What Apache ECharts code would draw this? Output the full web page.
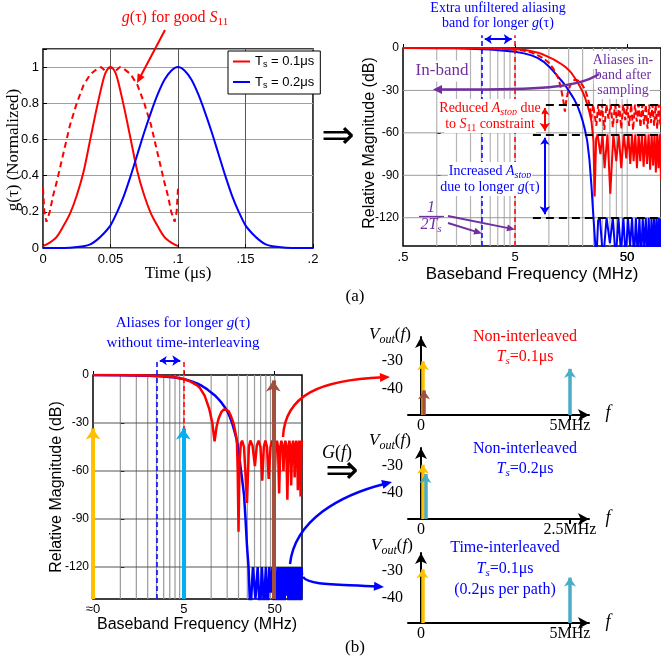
<!DOCTYPE html>
<html><head><meta charset="utf-8">
<script src="https://cdn.jsdelivr.net/npm/echarts@6/dist/echarts.min.js"></script>
<style>html,body{margin:0;padding:0;background:#fff}#c{width:661px;height:665px}</style>
</head><body><div id="c"></div>
<script>
// ---------------- DATA ----------------
// (a) left: impulse responses g(tau), time in microseconds
const tRed = [0,0.005,0.01,0.015,0.02,0.025,0.03,0.035,0.04,0.045,0.0475,0.05,0.0525,0.055,0.06,0.065,0.07,0.075,0.08,0.085,0.09,0.095,0.1];
const gRed = [0.01,0.03,0.06,0.12,0.19,0.29,0.42,0.60,0.78,0.94,0.985,1.0,0.985,0.94,0.78,0.60,0.42,0.29,0.19,0.12,0.06,0.03,0.01];
const tRedS11 = [0,0.001,0.0025,0.005,0.0075,0.01,0.0125,0.015,0.0175,0.02,0.025,0.03,0.035,0.04,0.043,0.046,0.05,0.054,0.057,0.06,0.065,0.07,0.075,0.08,0.0825,0.085,0.0875,0.09,0.0925,0.095,0.0975,0.099,0.1];
const gRedS11 = [0.33,0.2,0.145,0.2,0.29,0.36,0.44,0.52,0.6,0.68,0.8,0.9,0.96,0.99,1.0,0.98,1.0,0.98,1.0,0.99,0.96,0.9,0.8,0.68,0.6,0.52,0.44,0.36,0.29,0.2,0.145,0.2,0.33];
const tBlue = [0,0.01,0.02,0.03,0.035,0.04,0.045,0.05,0.055,0.06,0.065,0.07,0.075,0.08,0.085,0.09,0.095,0.1,0.105,0.11,0.115,0.12,0.125,0.13,0.135,0.14,0.145,0.15,0.155,0.16,0.165,0.17,0.18,0.19,0.2];
const gBlue = [0,0,0.002,0.01,0.02,0.045,0.08,0.125,0.2,0.29,0.4,0.52,0.64,0.75,0.85,0.93,0.98,1.0,0.98,0.93,0.85,0.75,0.64,0.52,0.4,0.29,0.2,0.125,0.08,0.045,0.02,0.01,0.002,0,0];
const tlXTicks = [0,0.05,0.1,0.15,0.2];
const tlXLabels = ['0','0.05','.1','.15','.2'];
const tlYTicks = [0,0.2,0.4,0.6,0.8,1];
const tlYLabels = ['0','0.2','0.4','0.6','0.8','1'];

// (a) right: magnitude responses [MHz, dB]
const trRed = [[0.5,0],[1,-0.02],[2,-0.1],[3,-0.25],[4,-0.45],[5,-0.8],[6,-1.3],[7,-2.2],[8,-3.3],[9,-4.8],[10,-6.5],[11,-8],[12,-9.8],[13,-11.5],[14,-13.3],[15,-15.5],[16,-18],[17,-21],[18,-24],[19,-27.5],[20,-31],[21,-35],[22,-40],[23,-45.5],[24,-52],[25,-66],[25.6,-105],[26.4,-64],[27.2,-61],[28.8,-75],[30.1,-61],[31.4,-85],[33.3,-61],[35.3,-103],[37.6,-61],[39.9,-80],[42,-61],[44.2,-85],[46.6,-61],[49,-78],[51.1,-61],[53.2,-82],[55.1,-61],[57,-80],[59,-61],[61,-85],[63.2,-61],[65.3,-80],[67.6,-61],[70,-84],[72.5,-61],[75,-82],[77.5,-61],[80,-86],[82.5,-61],[85,-83],[87.5,-61],[90,-88],[92.5,-61],[95,-85],[97.5,-61],[100,-93]];
const trRedS11 = [[0.5,0],[1,-0.03],[2,-0.12],[3,-0.3],[4,-0.6],[5,-1.1],[6,-2],[7,-3.2],[8,-5.2],[9,-7.5],[10,-10.5],[11,-14.8],[12,-20.5],[12.5,-25],[13,-31],[13.5,-38],[13.9,-45],[14.3,-37],[14.8,-31],[15.5,-26.5],[16.3,-23.5],[17,-22.5],[18,-22.8],[19,-24.5],[20,-26.5],[21,-29.5],[22,-34],[23,-40],[23.9,-50],[24.8,-40],[25.6,-40.5],[26.5,-55],[27.5,-40],[28.5,-52],[29.8,-40],[31.2,-58],[32.6,-40],[34,-50],[35.6,-40],[37.2,-56],[38.9,-40],[40.6,-53],[42.4,-40],[44.2,-57],[46.1,-40],[48,-51],[50,-40],[52,-55],[54.2,-40],[56.4,-58],[58.6,-40],[60.8,-52],[63.2,-40],[65.6,-56],[68.1,-40],[70.6,-54],[73.2,-40],[75.8,-57],[78.5,-40],[81.2,-53],[84,-40],[86.8,-55],[89.6,-40],[92.5,-57],[95.5,-40],[98.5,-54],[100,-41]];
const trBlue = [[0.5,0],[1,-0.1],[1.5,-0.25],[2,-0.5],[2.5,-0.8],[3,-1.15],[4,-1.9],[5,-2.7],[6,-3.8],[7,-5.2],[8,-7.2],[9,-9.8],[10,-13],[11,-16.5],[12,-20],[13,-23.3],[14,-26.5],[15,-30],[16,-33.5],[17,-37],[18,-41],[19,-46],[20,-51.5],[21,-58],[22,-66],[23,-79],[24,-98],[24.6,-112],[25,-120],[25.8,-121],[26.5,-150],[27.5,-122],[28.5,-120],[30.5,-150],[32.7,-120],[35,-138],[37.2,-120],[39.5,-150],[41.7,-120],[44,-145],[46.2,-120],[48.5,-150],[50.7,-120],[53,-140],[55.2,-120],[57.5,-150],[59.7,-120],[62,-148],[64.2,-120],[66.5,-150],[68.7,-120],[71,-142],[73.2,-120],[75.5,-150],[77.7,-120],[80,-150],[82.2,-120],[84.5,-145],[86.7,-120],[89,-150],[91.2,-120],[93.5,-150],[95.7,-120],[98,-150],[100,-121]];
const aliasBandF = [2.5, 5];          // 1/(2Ts) for Ts = 0.2us and 0.1us
const stopLevels = [-40, -61, -120];  // Astop levels
const stopMarkF = 9.2;

// (b) left: magnitude responses [MHz, dB]
const blRed = [[0.5,0],[1,-0.05],[2,-0.3],[3,-0.7],[4,-1.4],[5,-2.6],[6,-4.3],[7,-6.5],[7.5,-8],[8.5,-13],[9.5,-21],[10.3,-30],[10.9,-41.5],[11.5,-32],[12.1,-27],[13,-23],[13.8,-21.5],[14.7,-21.7],[15.6,-22.7],[16.6,-26],[17.6,-30],[18.5,-36],[19.2,-41],[19.6,-60],[20,-98],[20.5,-55],[21.2,-43],[21.9,-41],[23,-45],[24.8,-80],[26,-45],[27,-41],[28.5,-44],[30.3,-57],[31.8,-44],[33.3,-41],[34.9,-45],[36.5,-66],[38,-45],[39.5,-41],[41.2,-45],[43,-65],[45,-45],[46.8,-41],[48.5,-45],[50,-63],[51.5,-45],[53,-41],[54.5,-45],[56,-74],[57.7,-45],[59.3,-41],[61,-45],[62.5,-60],[64,-45],[65.6,-41],[67.2,-45],[69,-78],[70.8,-45],[72.6,-41],[74.3,-45],[76,-69],[78,-45],[79.8,-41],[81.4,-45],[83,-64],[84.8,-45],[86.7,-41],[88.3,-45],[90,-72],[91.8,-45],[93.6,-41],[95,-45],[96.5,-76],[98,-45],[100,-41]];
const blBlue = [[0.5,0],[1,-0.1],[2,-0.4],[3,-0.9],[4,-1.6],[5,-2.5],[6,-3.8],[7,-5.2],[8,-7],[9,-8.8],[10,-11],[11,-12.8],[12,-15],[13,-17.3],[14,-19.8],[15,-22.5],[16,-26],[17,-30],[18,-35],[19,-40],[20,-47],[21,-57],[22,-66],[23,-75],[24,-92],[24.8,-107],[25.8,-120],[27,-150],[28.8,-120],[30.7,-140],[32.5,-120],[34.4,-150],[36.2,-120],[38.1,-146],[40,-120],[41.8,-150],[43.6,-120],[45.5,-136],[47.3,-120],[49.2,-150],[51,-120],[52.9,-150],[54.7,-120],[56.6,-142],[58.4,-120],[60.3,-150],[62.1,-120],[64,-150],[65.8,-120],[67.7,-138],[69.5,-120],[71.4,-150],[73.2,-120],[75.1,-150],[77,-120],[78.8,-145],[80.6,-120],[82.5,-150],[84.3,-120],[86.2,-150],[88,-120],[89.9,-140],[91.8,-120],[93.6,-150],[95.5,-120],[97.3,-150],[99,-120],[100,-125]];
const blTones = [[0.5,-30],[4.93,-30],[48.3,0]]; // tone frequency, tone level (dB)

const magTicks = [0,-30,-60,-90,-120];
const freqTicks = [0.5,5,50];
const trFreqLabels = ['.5','5','50'];
const blFreqLabels = ['≈0','5','50'];
const minorGridF = [1,1.5,2,2.5,3,3.5,4,4.5,5,10,15,20,25,30,35,40,45,50];

// (b) right: output spectra, [f (MHz), level (dB)]
const p1Tones = [[0.07,-28.7],[0.1,-39.1],[5,-31.4]];
const p2Tones = [[0.034,-27.9],[0.075,-31.3]];
const p3Tones = [[0.05,-27.9],[5,-30.9]];
const p1XTicks = [0,5], p1XLabels = ['0','5MHz'];
const p2XTicks = [0,2.5], p2XLabels = ['0','2.5MHz'];
const pYTicks = [-30,-40];

// ---------------- STYLE ----------------
const SERIF = 'Liberation Serif', SANS = 'Liberation Sans';
const RED='#ff0000', BLUE='#0000ff', PURPLE='#7030a0', YELLOW='#ffc000', CYAN='#00b0f0', TEAL='#4bacc6', BROWN='#a0503c';
const lg = f => Math.log10(f);
const toLog = arr => arr.map(p => [lg(p[0]), p[1]]);
const zip = (a,b) => a.map((v,i)=>[v,b[i]]);
const pick = (ticks, labels) => v => { const i = ticks.findIndex(t => Math.abs(t - v) < 1e-4); return i < 0 ? '' : labels[i]; };
const seg = (x1,y1,x2,y2,color,extra) => ({coords:[[x1,y1],[x2,y2]], lineStyle:Object.assign({color, opacity:1}, extra||{})});

function vGrid(fs, y0, y1){ const d=[]; fs.forEach(f=>{ d.push([lg(f),y0],[lg(f),y1],[lg(f),'-']); }); return d; }
function hGrid(ys){ const d=[]; ys.forEach(y=>{ d.push([lg(0.5),y],[2,y],[2,'-']); }); return d; }

const tickFont = {fontFamily:SANS, fontSize:13, color:'#000'};

function logX(gi, labels, margin){
  const tv = freqTicks.map(lg);
  return {gridIndex:gi, type:'value', min:lg(0.5), max:2,
    axisLine:{show:false}, splitLine:{show:false},
    axisTick:{show:true, inside:true, length:4, customValues:tv, lineStyle:{color:'#000'}},
    axisLabel:Object.assign({customValues:tv, formatter:pick(tv, labels), margin:margin, showMaxLabel:true, showMinLabel:true, hideOverlap:false}, tickFont)};
}
function magY(gi){
  return {gridIndex:gi, type:'value', min:-140, max:0,
    axisLine:{show:false}, splitLine:{show:false},
    axisTick:{show:true, inside:true, length:4, customValues:magTicks, lineStyle:{color:'#000'}},
    axisLabel:{customValues:magTicks, formatter:v=>String(v), margin:4, fontSize:12, fontFamily:SANS, color:'#000'}};
}
function panelX(gi, min, max, ticks, labels){
  return {gridIndex:gi, type:'value', min, max, splitLine:{show:false},
    axisLine:{show:true, onZero:true, symbol:['none','arrow'], symbolSize:[9,11], lineStyle:{color:'#000', width:2}},
    axisTick:{show:true, customValues:[ticks[1]], length:5, lineStyle:{color:'#000', width:2}},
    axisLabel:{customValues:ticks, formatter:pick(ticks, labels), fontFamily:SERIF, fontSize:16, color:'#000', margin:3}};
}
function panelY(gi, min, max){
  return {gridIndex:gi, type:'value', min, max, splitLine:{show:false},
    axisLine:{show:true, onZero:true, symbol:['none','arrow'], symbolSize:[9,11], lineStyle:{color:'#000', width:2}},
    axisTick:{show:false},
    axisLabel:{customValues:pYTicks, formatter:v=>String(v), fontFamily:SERIF, fontSize:16, color:'#000', margin:5}};
}

function mkRich(size, color){
  const lh = Math.round(size*1.25);
  return {
    n:{fontFamily:SERIF, fontSize:size, fill:color, lineHeight:lh},
    i:{fontFamily:SERIF, fontSize:size, fontStyle:'italic', fill:color, lineHeight:lh},
    s:{fontFamily:SERIF, fontSize:Math.round(size*0.68), fontStyle:'italic', fill:color, verticalAlign:'bottom', lineHeight:Math.round(size*0.6)},
    u:{fontFamily:SERIF, fontSize:Math.round(size*0.68), fill:color, verticalAlign:'bottom', lineHeight:Math.round(size*0.6)},
    a:{fontFamily:SANS, fontSize:size, fill:color, lineHeight:lh},
    d:{fontFamily:'DejaVu Sans', fontSize:size, fill:color, lineHeight:lh}
  };
}
function T(x, y, text, o){
  o = o || {};
  const size = o.size || 15, color = o.color || '#000';
  const st = {text, fill:color, font:size+'px '+SERIF, align:'center', verticalAlign:'middle', rich:mkRich(size,color)};
  if (o.bg) { st.backgroundColor = o.bg; st.padding = [0,1]; }
  return {type:'text', x, y, z:100, rotation:o.rot||0, silent:true, style:st};
}
function arrow(p0,p1,p2,p3,color,w,hl,hw){
  let dx=p3[0]-p2[0], dy=p3[1]-p2[1];
  if (Math.hypot(dx,dy) < 1e-6){ dx=p3[0]-p0[0]; dy=p3[1]-p0[1]; }
  const a=Math.atan2(dy,dx), c=Math.cos(a), s=Math.sin(a);
  const bx=p3[0]-hl*c, by=p3[1]-hl*s;
  return [
    {type:'bezierCurve', z:100, silent:true, shape:{x1:p0[0],y1:p0[1],cpx1:p1[0],cpy1:p1[1],cpx2:p2[0],cpy2:p2[1],x2:bx+0.3*hl*c,y2:by+0.3*hl*s}, style:{stroke:color, lineWidth:w, fill:'none'}},
    {type:'polygon', z:101, silent:true, shape:{points:[[p3[0],p3[1]],[bx-hw*s,by+hw*c],[bx+hw*s,by-hw*c]]}, style:{fill:color}}
  ];
}
const ROT = Math.PI/2;

const graphics = [].concat(
  // (a) left
  [T(175,18,'{i|g}{n|(τ) for good }{i|S}{u|11}',{size:16,color:RED}),
   T(14,150,'{n|g(τ) (Normalized)}',{size:17,rot:ROT}),
   T(178,274,'{n|Time (μs)}',{size:17})],
  arrow([165,30],[165,30],[165,30],[137,83],RED,2,9,4),
  // (a) right
  [T(498,8,'{n|Extra unfiltered aliasing}',{size:14,color:BLUE}),
   T(498,23,'{n|band for longer }{i|g}{n|(τ)}',{size:14,color:BLUE}),
   T(442,71,'{n|In-band}',{size:17,color:PURPLE,bg:'#fff'}),
   T(623,60,'{n|Aliases in-}',{size:14,color:PURPLE,bg:'#fff'}),
   T(623,75,'{n|band after}',{size:14,color:PURPLE,bg:'#fff'}),
   T(623,90,'{n|sampling}',{size:14,color:PURPLE,bg:'#fff'}),
   T(490,108,'{n|Reduced }{i|A}{s|stop}{n| due}',{size:14,color:RED,bg:'#fff'}),
   T(490,124,'{n|to }{i|S}{u|11}{n| constraint}',{size:14,color:RED,bg:'#fff'}),
   T(490,171,'{n|Increased }{i|A}{s|stop}',{size:14,color:BLUE,bg:'#fff'}),
   T(490,187,'{n|due to longer }{i|g}{n|(τ)}',{size:14,color:BLUE,bg:'#fff'}),
   T(431,208,'{i|1}',{size:16,color:PURPLE}),
   T(431,225,'{i|2T}{s|s}',{size:16,color:PURPLE}),
   {type:'line', z:100, silent:true, shape:{x1:419,y1:216.5,x2:444,y2:216.5}, style:{stroke:PURPLE, lineWidth:1.3}},
   {type:'text', x:627, y:257, z:100, silent:true, style:{text:'50', fill:'#000', font:'13px '+SANS, align:'center', verticalAlign:'middle'}},
   T(370,143,'{a|Relative Magnitude (dB)}',{size:16,rot:ROT}),
   T(532,274,'{a|Baseband Frequency (MHz)}',{size:17}),
   T(338,138,'{d|⇒}',{size:40}),
   T(355,297,'{n|(a)}',{size:17})],
  arrow([599,74],[578,88],[540,90],[433,89.5],PURPLE,2.5,9,4.5),
  arrow([448,216],[448,216],[448,216],[515,229.5],PURPLE,2,8,3.5),
  arrow([448,223],[448,223],[448,223],[482,233.5],PURPLE,2,8,3.5),
  // (b) left
  [T(183,323,'{n|Aliases for longer }{i|g}{n|(τ)}',{size:15,color:BLUE}),
   T(183,343,'{n|without time-interleaving}',{size:15,color:BLUE}),
   T(57,487,'{a|Relative Magnitude (dB)}',{size:16,rot:ROT}),
   T(197,625,'{a|Baseband Frequency (MHz)}',{size:16}),
   T(337,453,'{i|G}{n|(}{i|f}{n|)}',{size:18}),
   T(342,473,'{d|⇒}',{size:40}),
   T(355,648,'{n|(b)}',{size:17})],
  arrow([283,437],[285,395],[320,380],[390,377],RED,2.5,10,4.5),
  arrow([290,564],[295,520],[340,495],[392,482],BLUE,2.5,10,4.5),
  arrow([303,577],[310,586],[340,584],[384,587],BLUE,2.5,10,4.5),
  // (b) right
  [T(390,335,'{i|V}{s|out}{n|(}{i|f}{n|)}',{size:17}),
   T(390,441,'{i|V}{s|out}{n|(}{i|f}{n|)}',{size:17}),
   T(392,546,'{i|V}{s|out}{n|(}{i|f}{n|)}',{size:17}),
   T(608,413,'{i|f}',{size:18}), T(608,518,'{i|f}',{size:18}), T(608,622,'{i|f}',{size:18}),
   T(525,337,'{n|Non-interleaved}',{size:16,color:RED}),
   T(525,357,'{i|T}{s|s}{n|=0.1μs}',{size:16,color:RED}),
   T(525,449,'{n|Non-interleaved}',{size:16,color:BLUE}),
   T(525,469,'{i|T}{s|s}{n|=0.2μs}',{size:16,color:BLUE}),
   T(505,548,'{n|Time-interleaved}',{size:16,color:BLUE}),
   T(505,569,'{i|T}{s|s}{n|=0.1μs}',{size:16,color:BLUE}),
   T(505,590,'{n|(0.2μs per path)}',{size:16,color:BLUE})]
);

// ---------------- SERIES ----------------
const lineBase = {type:'line', symbol:'none', showSymbol:false, silent:true};
const linesBase = {type:'lines', coordinateSystem:'cartesian2d', clip:false, silent:true, z:5};
const series = [
  // (a) left
  Object.assign({}, lineBase, {name:'Ts = 0.1μs', xAxisIndex:0, yAxisIndex:0, data:zip(tRed,gRed), smooth:0.3, lineStyle:{color:RED,width:2}, itemStyle:{color:RED}, z:3}),
  Object.assign({}, lineBase, {name:'g for good S11', xAxisIndex:0, yAxisIndex:0, data:zip(tRedS11,gRedS11), lineStyle:{color:RED,width:2,type:[6,4]}, itemStyle:{color:RED}, z:3}),
  Object.assign({}, lineBase, {name:'Ts = 0.2μs', xAxisIndex:0, yAxisIndex:0, data:zip(tBlue,gBlue), smooth:0.3, lineStyle:{color:BLUE,width:2}, itemStyle:{color:BLUE}, z:3}),
  // (a) right grid lines
  Object.assign({}, lineBase, {name:'trv', xAxisIndex:1, yAxisIndex:1, data:vGrid(minorGridF,-140,0), lineStyle:{color:'#b4b4b4',width:1.2}, z:1}),
  Object.assign({}, lineBase, {name:'trh', xAxisIndex:1, yAxisIndex:1, data:hGrid([-30,-60,-90,-120]), lineStyle:{color:'#9a9a9a',width:1}, z:1}),
  Object.assign({}, lineBase, {name:'tr blue', xAxisIndex:1, yAxisIndex:1, data:toLog(trBlue), lineStyle:{color:BLUE,width:2}, z:3}),
  Object.assign({}, lineBase, {name:'tr red', xAxisIndex:1, yAxisIndex:1, data:toLog(trRed), lineStyle:{color:RED,width:2}, z:3}),
  Object.assign({}, lineBase, {name:'tr red s11', xAxisIndex:1, yAxisIndex:1, data:toLog(trRedS11), lineStyle:{color:RED,width:2,type:[6,3]}, z:3}),
  Object.assign({}, linesBase, {xAxisIndex:1, yAxisIndex:1, z:4, symbol:'none',
   lineStyle:{width:1.5, type:[5,3], opacity:1},
   data:[seg(lg(aliasBandF[0]),-140,lg(aliasBandF[0]),9,BLUE), seg(lg(aliasBandF[1]),-140,lg(aliasBandF[1]),9,RED)]}),
  Object.assign({}, linesBase, {xAxisIndex:1, yAxisIndex:1, z:4, symbol:'none',
   lineStyle:{width:2, type:[8,5], opacity:1},
   data:stopLevels.map(y=>seg(lg(7.2),y,2,y,'#000'))}),
  Object.assign({}, linesBase, {xAxisIndex:1, yAxisIndex:1, symbol:['arrow','arrow'], symbolSize:[7,8],
   lineStyle:{width:2, opacity:1},
   data:[seg(lg(2.68),6.2,lg(4.66),6.2,BLUE),
         seg(lg(stopMarkF),stopLevels[0]-2.5,lg(stopMarkF),stopLevels[1]+2.5,RED),
         seg(lg(stopMarkF),stopLevels[1]-2.5,lg(stopMarkF),stopLevels[2]+2.5,BLUE)]}),
  // (b) left
  Object.assign({}, lineBase, {name:'blv', xAxisIndex:2, yAxisIndex:2, data:vGrid(minorGridF,-140,0), lineStyle:{color:'#9a9a9a',width:1.2}, z:1}),
  Object.assign({}, lineBase, {name:'blh', xAxisIndex:2, yAxisIndex:2, data:hGrid([-30,-60,-90,-120]), lineStyle:{color:'#555',width:1}, z:1}),
  Object.assign({}, lineBase, {name:'bl blue', xAxisIndex:2, yAxisIndex:2, data:toLog(blBlue), lineStyle:{color:BLUE,width:2.5}, z:3}),
  Object.assign({}, lineBase, {name:'bl red', xAxisIndex:2, yAxisIndex:2, data:toLog(blRed), lineStyle:{color:RED,width:2.5}, z:3}),
  Object.assign({}, linesBase, {xAxisIndex:2, yAxisIndex:2, z:4, symbol:'none',
   lineStyle:{width:1.5, type:[5,3], opacity:1},
   data:[seg(lg(aliasBandF[0]),-140,lg(aliasBandF[0]),9.6,BLUE), seg(lg(aliasBandF[1]),-140,lg(aliasBandF[1]),9.6,RED)]}),
  Object.assign({}, linesBase, {xAxisIndex:2, yAxisIndex:2, symbol:['arrow','arrow'], symbolSize:[7,8],
   lineStyle:{width:2, opacity:1}, data:[seg(lg(2.72),9,lg(4.57),9,BLUE)]}),
  Object.assign({}, linesBase, {xAxisIndex:2, yAxisIndex:2, symbol:['none','arrow'], symbolSize:[12,11],
   lineStyle:{width:4, opacity:1},
   data:[seg(lg(blTones[0][0]),-140,lg(blTones[0][0]),blTones[0][1]-3.4,YELLOW),
         seg(lg(blTones[1][0]),-140,lg(blTones[1][0]),blTones[1][1]-3.4,CYAN),
         seg(lg(blTones[2][0]),-140,lg(blTones[2][0]),blTones[2][1]-3.4,BROWN)]}),
  // (b) right panels
  Object.assign({}, linesBase, {xAxisIndex:3, yAxisIndex:3, symbol:['none','arrow'], symbolSize:[10,9],
   lineStyle:{width:3.5, opacity:1},
   data:[seg(p1Tones[0][0],-49.5,p1Tones[0][0],p1Tones[0][1]-1.6,YELLOW),
         seg(p1Tones[1][0],-49.5,p1Tones[1][0],p1Tones[1][1]-1.6,BROWN),
         seg(p1Tones[2][0],-49.5,p1Tones[2][0],p1Tones[2][1]-1.6,TEAL)]}),
  Object.assign({}, linesBase, {xAxisIndex:4, yAxisIndex:4, symbol:['none','arrow'], symbolSize:[10,9],
   lineStyle:{width:3.5, opacity:1},
   data:[seg(p2Tones[0][0],-49.7,p2Tones[0][0],p2Tones[0][1]-1.7,YELLOW),
         seg(p2Tones[1][0],-49.7,p2Tones[1][0],p2Tones[1][1]-1.7,TEAL)]}),
  Object.assign({}, linesBase, {xAxisIndex:5, yAxisIndex:5, symbol:['none','arrow'], symbolSize:[10,9],
   lineStyle:{width:3.5, opacity:1},
   data:[seg(p3Tones[0][0],-48.95,p3Tones[0][0],p3Tones[0][1]-1.6,YELLOW),
         seg(p3Tones[1][0],-48.95,p3Tones[1][0],p3Tones[1][1]-1.6,TEAL)]})
];

const border = {show:true, borderColor:'#000', borderWidth:1.5, backgroundColor:'transparent'};
const option = {
  animation:false,
  backgroundColor:'#fff',
  grid:[
    Object.assign({left:43, top:49, width:270, height:199}, border),
    Object.assign({left:403, top:48, width:258, height:198}, border),
    Object.assign({left:93, top:375, width:209, height:224}, border),
    {left:408, top:337, width:181, height:78},
    {left:408, top:448, width:181, height:71},
    {left:408, top:553, width:181, height:70}
  ],
  xAxis:[
    {gridIndex:0, type:'value', min:0, max:0.2, interval:0.05, axisLine:{show:false},
     axisTick:{inside:true, length:4, lineStyle:{color:'#000'}},
     splitLine:{show:true, lineStyle:{color:'#555', width:1}},
     axisLabel:Object.assign({formatter:pick(tlXTicks,tlXLabels), margin:5}, tickFont)},
    logX(1, trFreqLabels, 5),
    logX(2, blFreqLabels, 4),
    panelX(3, -0.436, 5.638, p1XTicks, p1XLabels),
    panelX(4, -0.218, 2.819, p2XTicks, p2XLabels),
    panelX(5, -0.436, 5.638, p1XTicks, p1XLabels)
  ],
  yAxis:[
    {gridIndex:0, type:'value', min:0, max:1.1, interval:0.2, axisLine:{show:false},
     axisTick:{inside:true, length:4, lineStyle:{color:'#000'}},
     splitLine:{show:true, lineStyle:{color:'#a0a0a0', width:1.2}},
     axisLabel:Object.assign({formatter:pick(tlYTicks,tlYLabels), margin:4}, tickFont)},
    magY(1), magY(2),
    panelY(3, -49.5, -21.64),
    panelY(4, -49.7, -23.4),
    panelY(5, -48.95, -23.6)
  ],
  legend:{show:true, orient:'vertical', left:228, top:51, padding:[4,6,4,4], itemGap:6, itemWidth:17, itemHeight:14,
    data:['Ts = 0.1μs','Ts = 0.2μs'], borderColor:'#000', borderWidth:1, backgroundColor:'#fff', selectedMode:false,
    itemStyle:{opacity:0},
    formatter: n => n === 'Ts = 0.1μs' ? '{a|T}{s|s}{a| = 0.1μs}' : '{a|T}{s|s}{a| = 0.2μs}',
    textStyle:{rich:{a:{fontFamily:SANS,fontSize:13,color:'#000',lineHeight:16}, s:{fontFamily:SANS,fontSize:9,color:'#000',verticalAlign:'bottom',lineHeight:8}}}},
  series,
  graphic:{elements:graphics}
};
const chart = echarts.init(document.getElementById('c'), null, {renderer:'canvas'});
chart.setOption(option);
</script></body></html>
